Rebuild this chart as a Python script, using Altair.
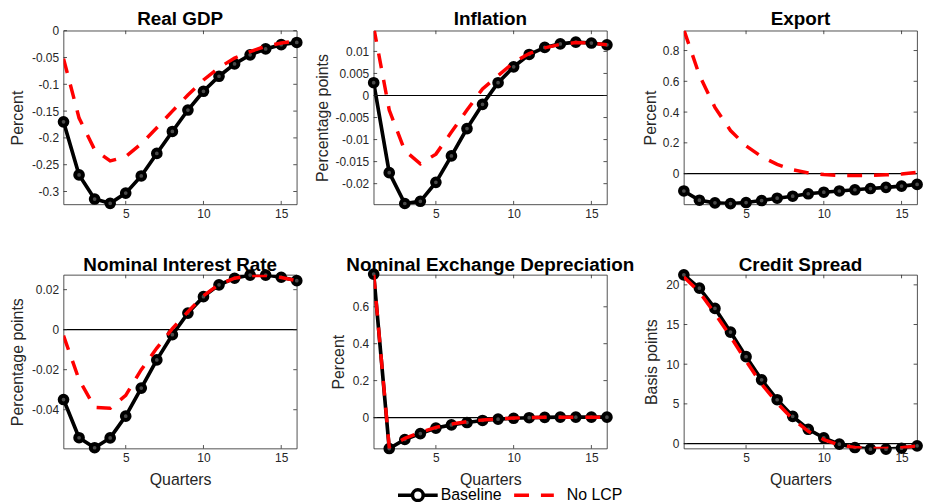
import altair as alt
import pandas as pd

quarters = list(range(1, 17))

titles = ["Real GDP", "Inflation", "Export",
          "Nominal Interest Rate", "Nominal Exchange Depreciation", "Credit Spread"]
ylabels = ["Percent", "Percentage points", "Percent",
           "Percentage points", "Percent", "Basis points"]

gdp_base = [-0.170, -0.269, -0.314, -0.322, -0.303, -0.271, -0.229, -0.188,
            -0.148, -0.113, -0.085, -0.062, -0.045, -0.034, -0.026, -0.022]
gdp_nolcp = [-0.052, -0.163, -0.222, -0.243, -0.235, -0.211, -0.181, -0.150,
             -0.120, -0.092, -0.069, -0.051, -0.039, -0.029, -0.023, -0.019]

inf_base = [0.0029, -0.0175, -0.0245, -0.0240, -0.0197, -0.0137, -0.0075, -0.0020,
            0.0029, 0.0065, 0.0093, 0.0109, 0.0117, 0.0121, 0.0119, 0.0115]
inf_nolcp = [0.0155, -0.0033, -0.0125, -0.0155, -0.0133, -0.0083, -0.0033, 0.0015,
             0.0045, 0.0075, 0.0095, 0.0108, 0.0116, 0.0120, 0.0119, 0.0115]

exp_base = [-0.113, -0.173, -0.190, -0.195, -0.188, -0.175, -0.160, -0.147,
            -0.131, -0.121, -0.113, -0.105, -0.097, -0.089, -0.081, -0.070]
exp_nolcp = [0.935, 0.64, 0.43, 0.28, 0.18, 0.11, 0.06, 0.025,
             0.005, -0.006, -0.012, -0.013, -0.012, -0.008, -0.003, 0.008]

int_base = [-0.0349, -0.0540, -0.0590, -0.0541, -0.0432, -0.0292, -0.0151, -0.0025,
            0.0083, 0.0165, 0.0224, 0.0257, 0.0273, 0.0273, 0.0262, 0.0245]
int_nolcp = [-0.0030, -0.0250, -0.0388, -0.0393, -0.0328, -0.0200, -0.0092, 0.0005,
             0.0090, 0.0170, 0.0226, 0.0257, 0.0270, 0.0271, 0.0261, 0.0245]

fx_base = [0.777, -0.168, -0.119, -0.087, -0.057, -0.040, -0.027, -0.016,
           -0.009, -0.004, -0.001, 0.001, 0.002, 0.002, 0.002, 0.002]
fx_nolcp = [0.777, -0.162, -0.113, -0.080, -0.053, -0.035, -0.022, -0.013,
            -0.007, -0.003, 0.000, 0.001, 0.001, 0.002, 0.002, 0.002]

cs_base = [21.26, 19.58, 17.03, 14.05, 10.95, 8.03, 5.52, 3.43,
           1.80, 0.72, -0.08, -0.50, -0.71, -0.71, -0.59, -0.29]
cs_nolcp = [21.0, 19.1, 16.4, 13.5, 10.4, 7.5, 5.1, 3.1,
            1.55, 0.5, -0.2, -0.5, -0.62, -0.62, -0.52, -0.3]

bases = [gdp_base, inf_base, exp_base, int_base, fx_base, cs_base]
nolcps = [gdp_nolcp, inf_nolcp, exp_nolcp, int_nolcp, fx_nolcp, cs_nolcp]

ydomains = [[-0.324, 0], [-0.0247, 0.0147], [-0.2, 0.929],
            [-0.0594, 0.0274], [-0.168, 0.773], [-0.63, 21.26]]
yticks = [[-0.3, -0.25, -0.2, -0.15, -0.1, -0.05, 0],
          [-0.02, -0.015, -0.01, -0.005, 0, 0.005, 0.01],
          [0, 0.2, 0.4, 0.6, 0.8],
          [-0.04, -0.02, 0, 0.02],
          [0, 0.2, 0.4, 0.6],
          [0, 5, 10, 15, 20]]
xticks = [5, 10, 15]
series_names = ["Baseline", "No LCP"]

# layout / style
W, H = 235, 175
FONT = "Liberation Sans"
title_x = [-46, -52, -34, -46, -35, -33]
TICK = 3.5
AXC = "#262626"

BASE_PATH = ("M-1,0H-0.27M0.27,0H1"
             "M-0.27,0A0.27,0.27 0 1 1 0.27,0A0.27,0.27 0 1 1 -0.27,0Z")


def panel(i):
    df = pd.DataFrame({"q": quarters, "val": bases[i], "nolcp": nolcps[i]})
    bottom = i >= 3
    xaxis = alt.Axis(values=xticks, title="Quarters" if bottom else None,
                     titleY=31, titleBaseline="middle",
                     titleFontSize=16, titleFont=FONT, titleFontWeight="normal",
                     titleColor=AXC, labelPadding=4, labelOverlap=False,
                     labelFlush=False)
    yaxis = alt.Axis(values=yticks[i], title=ylabels[i], titleX=title_x[i],
                     titleY=H / 2, titleBaseline="middle", titleAlign="center",
                     titleFontSize=16, titleFont=FONT, titleFontWeight="normal",
                     titleColor=AXC, labelPadding=5, labelOverlap=False,
                     labelExpr="'' + datum.value")
    xs = alt.Scale(domain=[1, 16], nice=False, zero=False)
    ys = alt.Scale(domain=ydomains[i], nice=False, zero=False)

    def X(f):
        return alt.X(f, scale=xs, axis=xaxis)

    def Y(f):
        return alt.Y(f, scale=ys, axis=yaxis)

    ytdf = pd.DataFrame({"val": yticks[i]})
    xtdf = pd.DataFrame({"q": xticks})
    tl = alt.Chart(ytdf).mark_rule(color=AXC, strokeWidth=0.8).encode(
        y=Y("val:Q"), x=alt.value(0), x2=alt.value(TICK))
    tr = alt.Chart(ytdf).mark_rule(color=AXC, strokeWidth=0.8).encode(
        y=Y("val:Q"), x=alt.value(W - TICK), x2=alt.value(W))
    tb = alt.Chart(xtdf).mark_rule(color=AXC, strokeWidth=0.8).encode(
        x=X("q:Q"), y=alt.value(H - TICK), y2=alt.value(H))
    tt = alt.Chart(xtdf).mark_rule(color=AXC, strokeWidth=0.8).encode(
        x=X("q:Q"), y=alt.value(0), y2=alt.value(TICK))

    bl = alt.Chart(df).mark_line(color="black", strokeWidth=3.7, clip=True).encode(
        x=X("q:Q"), y=Y("val:Q"))
    bp = alt.Chart(df).mark_point(shape="circle", filled=True, fill="#4a4a4a",
                                  stroke="black", strokeWidth=4, size=60,
                                  opacity=1).encode(x=X("q:Q"), y=Y("val:Q"))
    rl = alt.Chart(df).mark_line(color="#ff0000", strokeWidth=3.5,
                                 strokeDash=[15, 12], clip=True).encode(
        x=X("q:Q"), y=Y("nolcp:Q"))

    ttl = alt.Chart(pd.DataFrame({"t": [titles[i]]})).mark_text(
        font=FONT, fontSize=19, fontWeight="bold", color="black",
        baseline="alphabetic", align="center").encode(
        text="t:N", x=alt.value(W / 2), y=alt.value(-6 if i < 3 else -4))

    layers = [bl]
    if i != 0:
        zero = alt.Chart(pd.DataFrame({"val": [0]})).mark_rule(
            color="black", strokeWidth=1.2).encode(y=Y("val:Q"))
        layers.append(zero)
    layers += [tl, tr, tb, tt, bp, rl, ttl]

    if i == 0:
        lb = alt.Chart(df).transform_calculate(s="'%s'" % series_names[0]).transform_filter(
            "false").mark_point().encode(
            x=X("q:Q"), y=Y("val:Q"),
            shape=alt.Shape("s:N", scale=alt.Scale(domain=[series_names[0]], range=[BASE_PATH]),
                            legend=alt.Legend(orient="none", legendX=335, legendY=446,
                                              title=None, padding=0, symbolSize=1600,
                                              symbolStrokeColor="black", symbolStrokeWidth=3.5,
                                              symbolFillColor="#4a4a4a", symbolOpacity=1,
                                              labelFont=FONT, labelFontSize=16,
                                              labelColor="black", labelOffset=1)))
        lr = alt.Chart(df).transform_calculate(s="'%s'" % series_names[1]).transform_filter(
            "false").mark_line(color="#ff0000").encode(
            x=X("q:Q"), y=Y("nolcp:Q"),
            strokeDash=alt.StrokeDash("s:N", scale=alt.Scale(domain=[series_names[1]], range=[[15, 12]]),
                                      legend=alt.Legend(orient="none", legendX=452, legendY=446,
                                                        title=None, padding=0, symbolSize=1600,
                                                        symbolType="stroke",
                                                        symbolStrokeColor="#ff0000",
                                                        symbolStrokeWidth=3.5,
                                                        symbolDash=[15, 16],
                                                        labelFont=FONT, labelFontSize=16,
                                                        labelColor="black", labelOffset=11)))
        layers += [lb, lr]

    return alt.layer(*layers).properties(width=W, height=H)


chart = alt.concat(*[panel(i) for i in range(6)], columns=3,
                   spacing={"row": 71, "column": 77.5}).properties(
    bounds="flush",
    padding={"left": 9, "top": 7, "right": 0, "bottom": 0},
    background="white",
).configure_view(
    stroke=AXC, strokeWidth=0.8
).configure_axis(
    domain=False, ticks=False, grid=False, labelFont=FONT, labelFontSize=12,
    labelColor=AXC, labelOverlap=False, labelFlush=False
)

chart.save("out.html", embed_options={"renderer": "svg", "actions": False})
